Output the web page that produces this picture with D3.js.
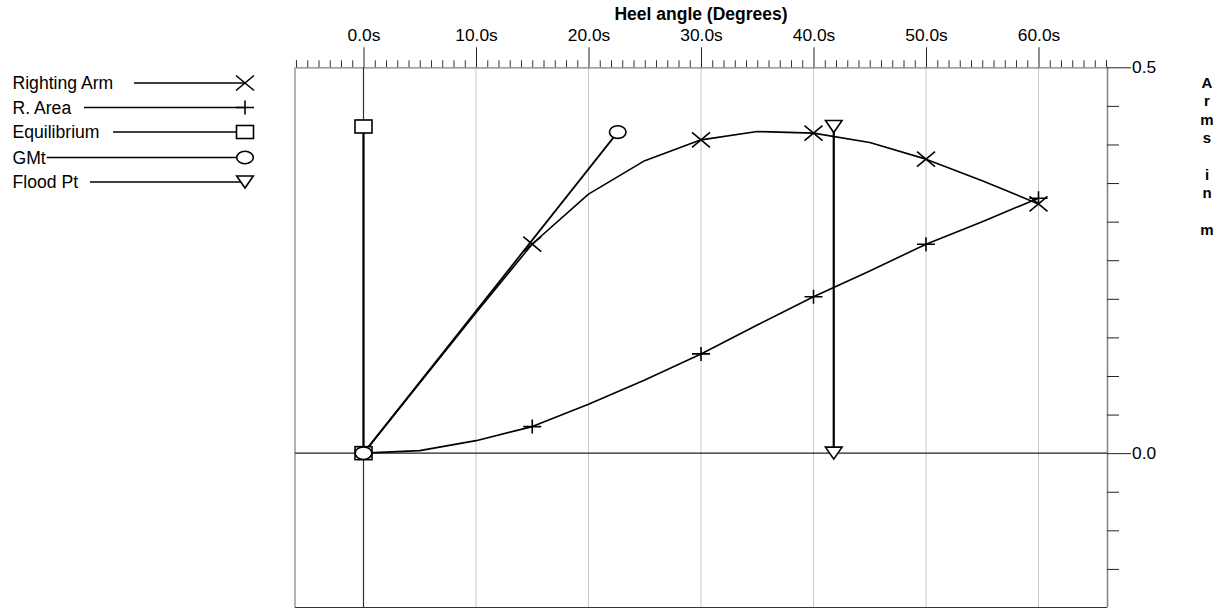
<!DOCTYPE html>
<html>
<head>
<meta charset="utf-8">
<script src="https://cdn.jsdelivr.net/npm/d3@7"></script>
<style>
  body { margin: 0; background: #fff; }
  svg { display: block; font-family: "Liberation Sans", Arial, sans-serif; }
</style>
</head>
<body>
<svg id="chart" width="1230" height="609"></svg>
<script>
// ---- Stability curve data (heel angle in degrees, arms in metres) ----
const heelAngles   = [0, 5, 10, 15, 20, 25, 30, 35, 40, 45, 50, 55, 60];
const rightingArm  = [0, 0.091, 0.182, 0.271, 0.3356, 0.379, 0.406, 0.4168, 0.4147, 0.4025, 0.381, 0.353, 0.323];
const rightingArea = [0, 0.0033, 0.0162, 0.0344, 0.0634, 0.0949, 0.1286, 0.166, 0.2027, 0.236, 0.2708, 0.300, 0.3304];
const markedAngles = [15, 30, 40, 50, 60];

const equilibriumAngles = [0, 0];
const equilibriumArms   = [0, 0.4233];
const gmtAngles         = [0, 22.6];
const gmtArms           = [0, 0.416];
const floodAngles       = [41.8, 41.8];
const floodArms         = [0, 0.4233];

const xMajorTicks  = [0, 10, 20, 30, 40, 50, 60];
const xTickLabels  = ["0.0s", "10.0s", "20.0s", "30.0s", "40.0s", "50.0s", "60.0s"];
const yMajorTicks  = [0, 0.5];
const yTickLabels  = ["0.0", "0.5"];
const legendLabels = ["Righting Arm", "R. Area", "Equilibrium", "GMt", "Flood Pt"];
const xTitle = "Heel angle (Degrees)";
const yTitleChars = ["A", "r", "m", "s", "", "i", "n", "", "m"];

// ---- layout ----
const svg = d3.select("#chart");
const x = d3.scaleLinear().domain([-6, 66]).range([296, 1106]);
const y = d3.scaleLinear().domain([-0.2, 0.5]).range([607.5, 67.3]);
const plotLeft = x.range()[0], plotRight = x.range()[1];
const plotTop = y.range()[1], plotBottom = y.range()[0];
const labelFont = 17.4;

// vertical grid lines at the labelled angles
svg.append("g").selectAll("line")
  .data(xMajorTicks.filter(d => d !== 0))
  .join("line")
  .attr("x1", d => x(d)).attr("x2", d => x(d))
  .attr("y1", plotTop).attr("y2", plotBottom)
  .attr("stroke", "#c8c8c8").attr("stroke-width", 1);

// frame
svg.append("line").attr("x1", plotLeft - 1).attr("x2", plotLeft - 1).attr("y1", plotTop).attr("y2", plotBottom)
  .attr("stroke", "#808080").attr("stroke-width", 1.2);
svg.append("line").attr("x1", plotLeft - 1).attr("x2", plotRight + 1).attr("y1", plotBottom).attr("y2", plotBottom)
  .attr("stroke", "#333").attr("stroke-width", 1.2);

// top axis: minor ticks every degree, major ticks with labels
const minorX = d3.range(-6, 67, 1).filter(d => !xMajorTicks.includes(d));
const topAxisMinor = d3.axisTop(x).tickValues(minorX).tickSize(7).tickFormat("");
const topAxisMajor = d3.axisTop(x).tickValues(xMajorTicks).tickSize(20).tickPadding(6)
  .tickFormat((d, i) => xTickLabels[i]);
const gMinor = svg.append("g").attr("transform", `translate(0,${plotTop})`).call(topAxisMinor);
gMinor.select(".domain").attr("stroke", "#808080").attr("stroke-width", 1.2);
gMinor.selectAll(".tick line").attr("stroke", "#333");
const gMajor = svg.append("g").attr("transform", `translate(0,${plotTop})`).call(topAxisMajor);
gMajor.select(".domain").remove();
gMajor.selectAll(".tick line").attr("stroke", "#222");
gMajor.selectAll(".tick text").attr("font-size", labelFont).attr("fill", "#000")
  .attr("font-family", "Liberation Sans, Arial, sans-serif");

svg.append("text").attr("x", (plotLeft + plotRight) / 2).attr("y", 20)
  .attr("text-anchor", "middle").attr("font-size", 17.5).attr("font-weight", "bold")
  .text(xTitle);

// right axis
const minorY = d3.range(-0.15, 0.5, 0.05).map(v => +v.toFixed(2)).filter(v => Math.abs(v) > 1e-6);
const rightAxisMinor = d3.axisRight(y).tickValues(minorY).tickSize(12).tickFormat("");
const gRMinor = svg.append("g").attr("transform", `translate(${plotRight + 1},0)`).call(rightAxisMinor);
gRMinor.select(".domain").attr("stroke", "#808080").attr("stroke-width", 1.5)
  .attr("d", `M0.5,${plotTop}V${plotBottom}`);
gRMinor.selectAll(".tick line").attr("stroke", "#222");

const rightAxisMajor = d3.axisRight(y).tickValues(yMajorTicks).tickSize(24).tickPadding(1)
  .tickFormat((d, i) => yTickLabels[i]);
const gRMajor = svg.append("g").attr("transform", `translate(${plotRight + 1},0)`).call(rightAxisMajor);
gRMajor.select(".domain").remove();
gRMajor.selectAll(".tick line").attr("stroke", "#222");
gRMajor.selectAll(".tick text").attr("font-size", labelFont).attr("fill", "#000")
  .attr("font-family", "Liberation Sans, Arial, sans-serif");

// axis title stacked letter by letter
const yTitle = svg.append("text").attr("text-anchor", "middle")
  .attr("font-size", 15).attr("font-weight", "bold");
yTitleChars.forEach((c, i) => {
  yTitle.append("tspan").attr("x", 1207).attr("y", 88 + i * 18.4).text(c || "\u00a0");
});

// zero lines
svg.append("line").attr("x1", plotLeft - 1).attr("x2", plotRight + 1).attr("y1", y(0)).attr("y2", y(0))
  .attr("stroke", "#222").attr("stroke-width", 1.2);
svg.append("line").attr("x1", x(0)).attr("x2", x(0)).attr("y1", plotTop).attr("y2", plotBottom)
  .attr("stroke", "#333").attr("stroke-width", 1.2);

// ---- marker shapes ----
const markers = {
  cross:  g => g.append("path").attr("d", "M-9,-7.5L9,7.5M-9,7.5L9,-7.5").attr("fill", "none"),
  plus:   g => g.append("path").attr("d", "M-9,0H9M0,-7V7").attr("fill", "none"),
  square: g => g.append("rect").attr("x", -8.5).attr("y", -6.5).attr("width", 17).attr("height", 13).attr("fill", "#fff"),
  circle: g => g.append("ellipse").attr("rx", 8.3).attr("ry", 6.3).attr("fill", "#fff"),
  tri:    g => g.append("path").attr("d", "M-8.3,-6L8.3,-6L0,6Z").attr("fill", "#fff")
};
function drawMarker(parent, kind, px, py) {
  const g = parent.append("g").attr("transform", `translate(${px},${py})`)
    .attr("stroke", "#000").attr("stroke-width", 1.6);
  markers[kind](g);
}

const line = d3.line().x(d => x(d[0])).y(d => y(d[1]));
const series = svg.append("g").attr("fill", "none").attr("stroke", "#000").attr("stroke-linejoin", "round");

series.append("path").attr("d", line(heelAngles.map((a, i) => [a, rightingArm[i]]))).attr("stroke-width", 1.6);
series.append("path").attr("d", line(heelAngles.map((a, i) => [a, rightingArea[i]]))).attr("stroke-width", 1.6);
series.append("path").attr("d", line(equilibriumAngles.map((a, i) => [a, equilibriumArms[i]]))).attr("stroke-width", 2.2);
series.append("path").attr("d", line(gmtAngles.map((a, i) => [a, gmtArms[i]]))).attr("stroke-width", 1.8);
series.append("path").attr("d", line(floodAngles.map((a, i) => [a, floodArms[i]]))).attr("stroke-width", 2.2);

const mk = svg.append("g");
heelAngles.forEach((a, i) => {
  if (markedAngles.includes(a)) {
    drawMarker(mk, "plus", x(a), y(rightingArea[i]));
    drawMarker(mk, "cross", x(a), y(rightingArm[i]));
  }
});
equilibriumAngles.forEach((a, i) => drawMarker(mk, "square", x(a), y(equilibriumArms[i])));
gmtAngles.forEach((a, i) => drawMarker(mk, "circle", x(a), y(gmtArms[i])));
floodAngles.forEach((a, i) => drawMarker(mk, "tri", x(a), y(floodArms[i])));

// ---- legend ----
const legendKinds = ["cross", "plus", "square", "circle", "tri"];
const legendRowY = [83, 107.5, 132, 157.5, 182];
const legendLineStart = [134, 84, 113, 44, 90];
const legendMarkerX = 245;
const lg = svg.append("g");
legendLabels.forEach((lab, i) => {
  const t = lg.append("text").attr("x", 12.5).attr("y", legendRowY[i]).attr("dy", "0.35em")
    .attr("font-size", 17.6).text(lab);
  const textEnd = 12.5 + t.node().getComputedTextLength();
  lg.append("line").attr("x1", Math.max(legendLineStart[i], textEnd + 1)).attr("x2", legendMarkerX)
    .attr("y1", legendRowY[i]).attr("y2", legendRowY[i])
    .attr("stroke", "#000").attr("stroke-width", 1.6);
  drawMarker(lg, legendKinds[i], legendMarkerX, legendRowY[i]);
});
</script>
</body>
</html>
